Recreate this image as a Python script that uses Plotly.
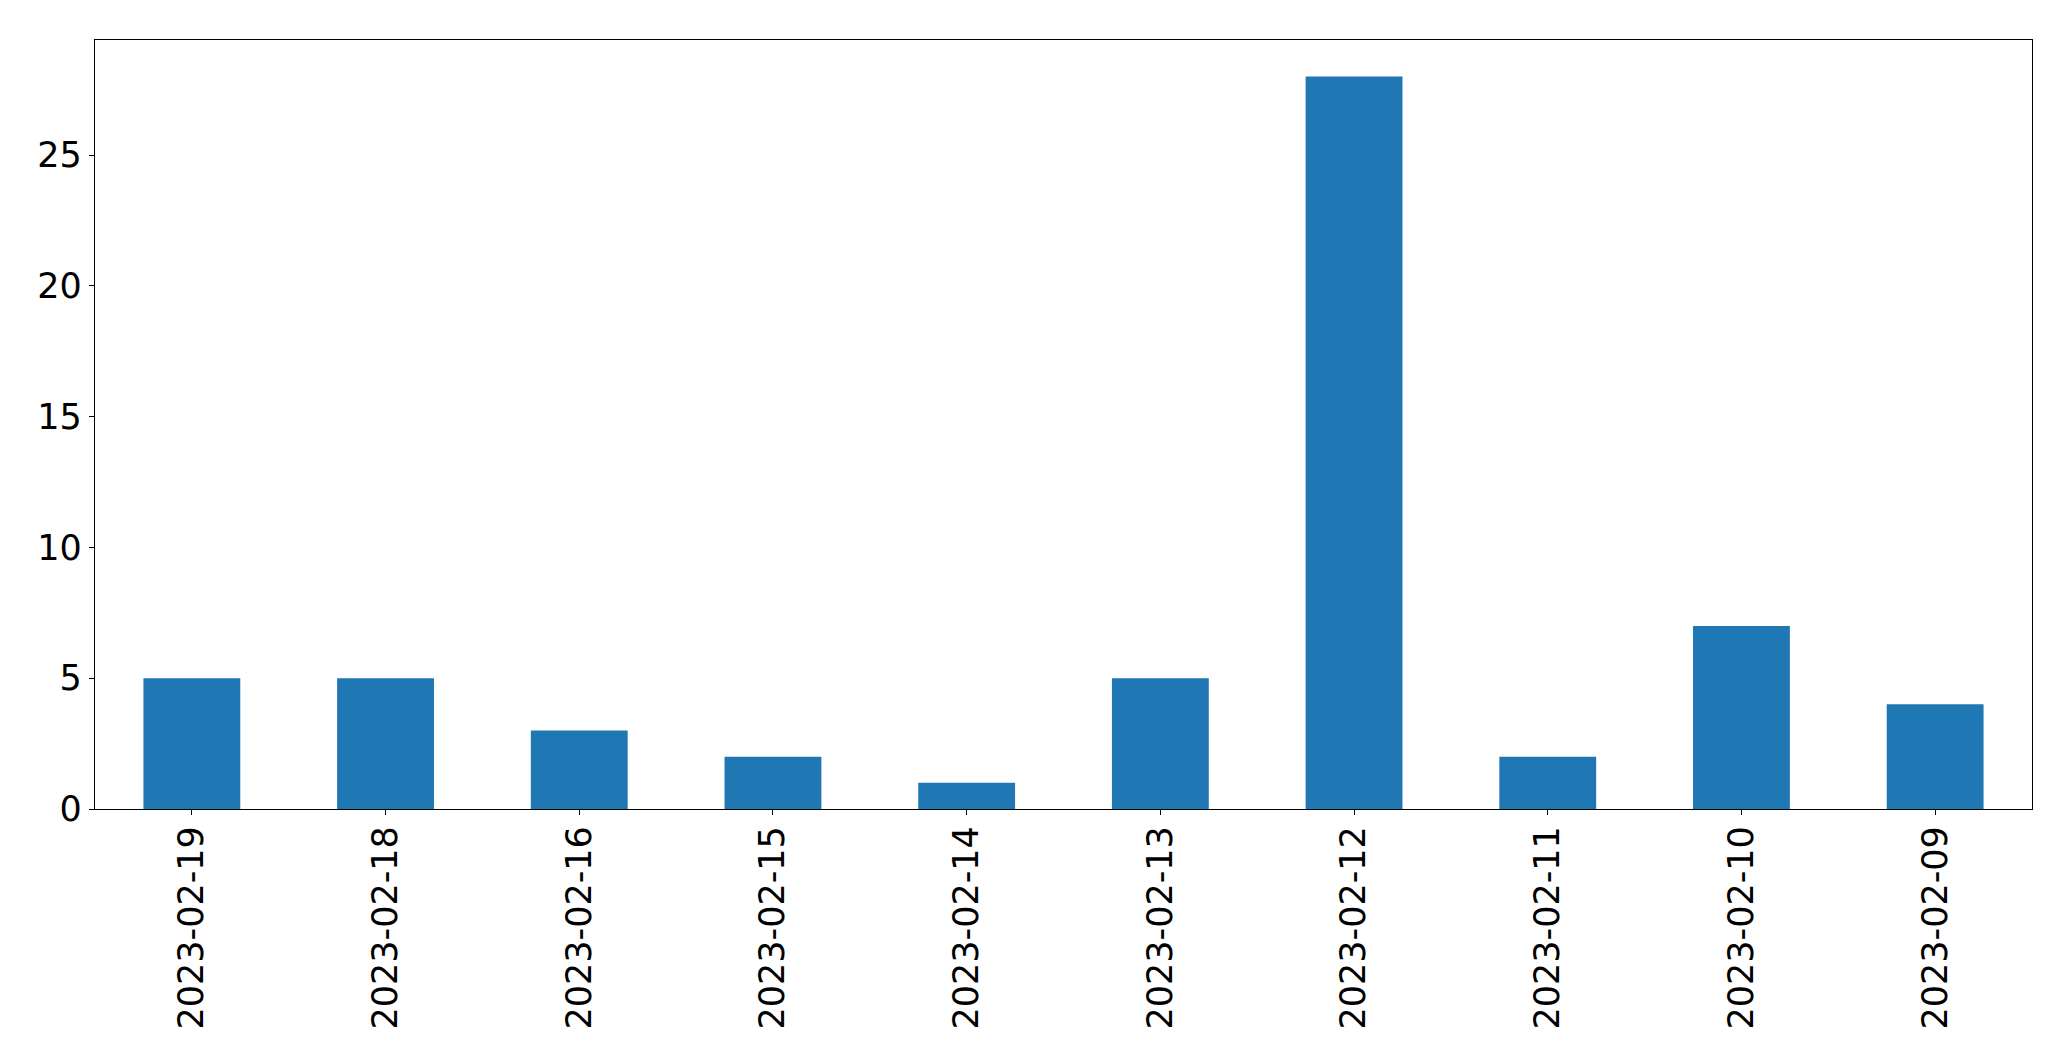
import plotly.graph_objects as go

dates = ["2023-02-19", "2023-02-18", "2023-02-16", "2023-02-15", "2023-02-14",
         "2023-02-13", "2023-02-12", "2023-02-11", "2023-02-10", "2023-02-09"]
counts = [5, 5, 3, 2, 1, 5, 28, 2, 7, 4]
y_ticks = [0, 5, 10, 15, 20, 25]

fig = go.Figure(go.Bar(x=dates, y=counts, marker_color="#1f77b4",
                       marker_line_width=0, width=0.5))

axis_common = dict(showline=True, mirror=True, linecolor="black", linewidth=1.3,
                   ticks="outside", ticklen=5, tickwidth=1.2, tickcolor="black",
                   showgrid=False, zeroline=False,
                   tickfont=dict(family="DejaVu Sans", size=35, color="black"))

fig.update_layout(
    width=2071, height=1061,
    margin=dict(l=87, r=47, t=32, b=260),
    plot_bgcolor="white", paper_bgcolor="white",
    showlegend=False,
)
fig.update_xaxes(type="category", range=[-0.5, 9.5], tickangle=-90,
                 ticklabelstandoff=-3, **axis_common)
fig.update_yaxes(range=[0, 29.4], tickvals=y_ticks, ticklabelstandoff=0,
                 **axis_common)

fig.write_html("out.html")
